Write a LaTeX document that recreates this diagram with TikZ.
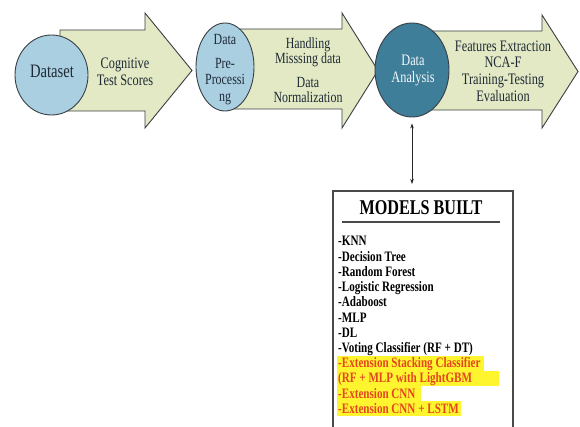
\documentclass[tikz,border=0pt]{standalone}
\usepackage{fontspec}
\setmainfont{Liberation Serif}
\newfontfamily\cond{Liberation Serif}[FakeStretch=0.77]
\usetikzlibrary{arrows.meta,shapes.geometric}
\definecolor{ellblue}{HTML}{AACFE1}
\definecolor{elldark}{HTML}{3E7E99}
\definecolor{arrfill}{HTML}{E2E9C4}
\definecolor{edge}{HTML}{3A3F45}
\definecolor{txt}{HTML}{1F2A36}
\definecolor{hl}{HTML}{FFF52E}
\definecolor{ext}{HTML}{E5461E}
\definecolor{boxedge}{HTML}{4A4A4A}
\begin{document}
\begin{tikzpicture}[x=1pt,y=-1pt,
  bigarrow/.style={fill=arrfill,draw=edge,line width=0.9pt,line join=miter},
  stage/.style={ellipse,draw=edge,line width=0.9pt,fill=ellblue,inner sep=0pt},
  atext/.style={align=center,text=txt,inner sep=0pt,font=\cond\fontsize{16}{16.8}\selectfont},
  etext/.style={align=center,text=txt,inner sep=0pt,font=\cond\fontsize{16}{16.8}\selectfont},
  item/.style={anchor=base west,inner sep=0pt,font=\cond\bfseries\fontsize{14.4}{15}\selectfont},
  extitem/.style={item,text=ext}
]
\useasboundingbox (0,0) rectangle (580,427);
\clip (0,0) rectangle (580,427);
\fill[white] (0,0) rectangle (580,427);

% big arrows
\draw[bigarrow] (60,30) -- (145,30) -- (145,13) -- (192,70.5) -- (145,128) -- (145,111) -- (60,111) -- cycle;
\draw[bigarrow] (230,29) -- (342,29) -- (342,13) -- (378,70.5) -- (342,128) -- (342,109) -- (230,109) -- cycle;
\draw[bigarrow] (420,31) -- (542,31) -- (542,15) -- (578,71.5) -- (542,128) -- (542,110) -- (420,110) -- cycle;

% ellipses
\node[stage,minimum width=73pt,minimum height=80pt] (ds) at (51.5,75) {};
\node[stage,minimum width=58pt,minimum height=88pt] (pre) at (225,67) {};
\node[stage,fill=elldark,minimum width=74pt,minimum height=94pt] (da) at (412,70) {};

% ellipse texts
\node[etext,font=\cond\fontsize{19}{19}\selectfont] (dsT) at (52,71) {Dataset};
\node[etext,font=\cond\fontsize{15.5}{16.5}\selectfont] (preT) at (225,69.5) {Data\\[7pt]Pre-\\Processi\\ng};
\node[etext,text=white!88!ellblue] (daT) at (413,70.5) {Data\\Analysis};

% arrow texts
\node[atext] (a1T) at (125,71.5) {Cognitive\\Test Scores};
\node[atext,font=\cond\fontsize{15.5}{15.5}\selectfont] (a2T) at (308,70) {Handling\\Misssing data\\[8pt]Data\\Normalization};
\node[atext] (a3T) at (503,71) {Features Extraction\\NCA-F\\Training-Testing\\Evaluation};

% models box
\node[draw=boxedge,line width=1.6pt,fill=white,minimum width=180pt,minimum height=260pt,anchor=north west,inner sep=0pt] (box) at (332,190) {};
\node[inner sep=0pt,font=\cond\bfseries\fontsize{21}{21}\selectfont] (title) at (421,207.5) {MODELS BUILT};
\draw[line width=1.2pt,draw=boxedge] (342,222) -- (500,222);

% highlights
\fill[hl] (337,355.5) rectangle (484,370.7);
\fill[hl] (337,370.5) rectangle (499,385.9);
\fill[hl] (337,385.7) rectangle (421,401.1);
\fill[hl] (337,400.9) rectangle (461,416.3);

% items
\node[item] (m1) at (338,246) {-KNN};
\node[item] (m2) at (338,261.2) {-Decision Tree};
\node[item] (m3) at (338,276.4) {-Random Forest};
\node[item] (m4) at (338,291.6) {-Logistic Regression};
\node[item] (m5) at (338,306.8) {-Adaboost};
\node[item] (m6) at (338,322) {-MLP};
\node[item] (m7) at (338,337.2) {-DL};
\node[item] (m8) at (338,352.4) {-Voting Classifier (RF + DT)};
\node[extitem] (m9) at (338,367.6) {-Extension Stacking Classifier};
\node[extitem] (m10) at (338,382.8) {(RF + MLP with LightGBM};
\node[extitem] (m11) at (338,398) {-Extension CNN};
\node[extitem] (m12) at (338,413.2) {-Extension CNN + LSTM};

% connector
\draw[{Stealth[length=5pt,width=3.5pt]}-{Stealth[length=5pt,width=3.5pt]},line width=0.7pt,draw=black!85,shorten <=6pt,shorten >=6pt] (da.south) -- (da.south |- box.north);
\end{tikzpicture}
\end{document}
